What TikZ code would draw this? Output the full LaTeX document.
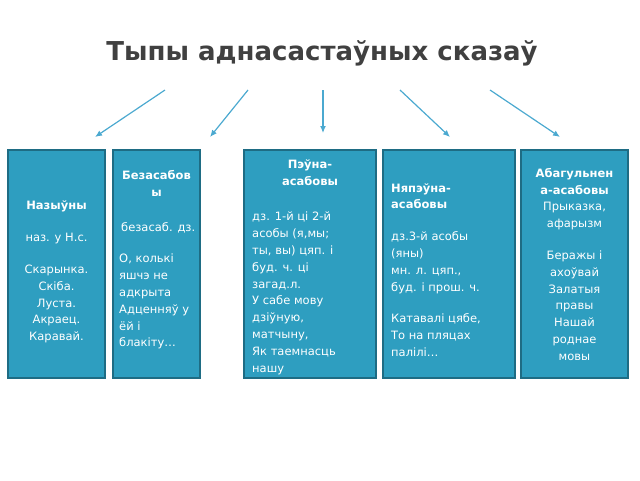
\documentclass[tikz,border=0pt]{standalone}
\usepackage{fontspec}
\setmainfont{DejaVu Sans}
\usetikzlibrary{positioning,calc}
\definecolor{boxfill}{HTML}{2E9EC0}
\definecolor{boxedge}{HTML}{1E6C84}
\definecolor{arrowc}{HTML}{4BA9D0}
\definecolor{titlec}{HTML}{404040}

\tikzset{
  kind/.style={draw=boxedge, line width=2pt, fill=boxfill},
  kindtext/.style={text=white, font=\fontsize{11.5}{16.8}\selectfont, inner sep=0pt},
  link/.style={arrowc, line width=1.2pt, -{Latex[length=7pt,width=6pt]}}
}
\usetikzlibrary{arrows.meta}

\begin{document}
\begin{tikzpicture}[x=1pt, y=-1pt]
    \useasboundingbox (0,0) rectangle (640,480);

    % Title
    \node[titlec, font=\bfseries\fontsize{26}{30}\selectfont] (title) at (322,53) {Тыпы аднасастаўных сказаў};

    % Boxes
    \draw[kind] (8,150) rectangle (105,378);
    \draw[kind] (113,150) rectangle (200,378);
    \draw[kind] (244,150) rectangle (376,378);
    \draw[kind] (383,150) rectangle (515,378);
    \draw[kind] (521,150) rectangle (628,378);

    % Texts
    \node[kindtext, align=center] (nazyuny) at (56.5,272)
      {\textbf{Назыўны}\\[15pt]наз. у Н.с.\\[15pt]Скарынка.\\Скіба.\\Луста.\\Акраец.\\Каравай.};
    \node[kindtext, anchor=north, align=center] (bezasabhead) at (156.5,170)
      {\textbf{Безасабов}\\\textbf{ы}};
    \node[kindtext, anchor=north west, align=left] (bezasab) at (119,222)
      {\hspace*{2pt}безасаб. дз.\\[15pt]О, колькі\\яшчэ не\\адкрыта\\Адценняў у\\ёй і\\блакіту…};
    \node[kindtext, anchor=north, align=center] (peyunahead) at (310,160)
      {\textbf{Пэўна-}\\\textbf{асабовы}};
    \node[kindtext, anchor=north west, align=left] (peyuna) at (252,212)
      {дз. 1-й ці 2-й\\асобы (я,мы;\\ты, вы) цяп. і\\буд. ч. ці\\загад.л.\\У сабе мову\\дзіўную,\\матчыну,\\Як таемнасць\\нашу};
    \node[kindtext, anchor=west, align=left] (nyapeyuna) at (391,270)
      {\textbf{Няпэўна-}\\\textbf{асабовы}\\[15pt]дз.3-й асобы\\(яны)\\мн. л. цяп.,\\буд. і прош. ч.\\[15pt]Катавалі цябе,\\То на пляцах\\палілі…};
    \node[kindtext, anchor=north, align=center] (abagul) at (574.5,168)
      {\textbf{Абагульнен}\\\textbf{а-асабовы}\\Прыказка,\\афарызм\\[15pt]Беражы і\\ахоўвай\\Залатыя\\правы\\Нашай\\роднае\\мовы};

    % Arrows
    \coordinate (a1) at (165,90);
    \coordinate (a2) at (248,90);
    \coordinate (a3) at (323,90);
    \coordinate (a4) at (400,90);
    \coordinate (a5) at (490,90);
    \coordinate (b1) at (95,137);
    \coordinate (b2) at (210,137);
    \coordinate (b3) at (323,133);
    \coordinate (b4) at (450,137);
    \coordinate (b5) at (560,137);
    \foreach \i in {1,...,5}
      \draw[link] (a\i) -- (b\i);
\end{tikzpicture}
\end{document}
